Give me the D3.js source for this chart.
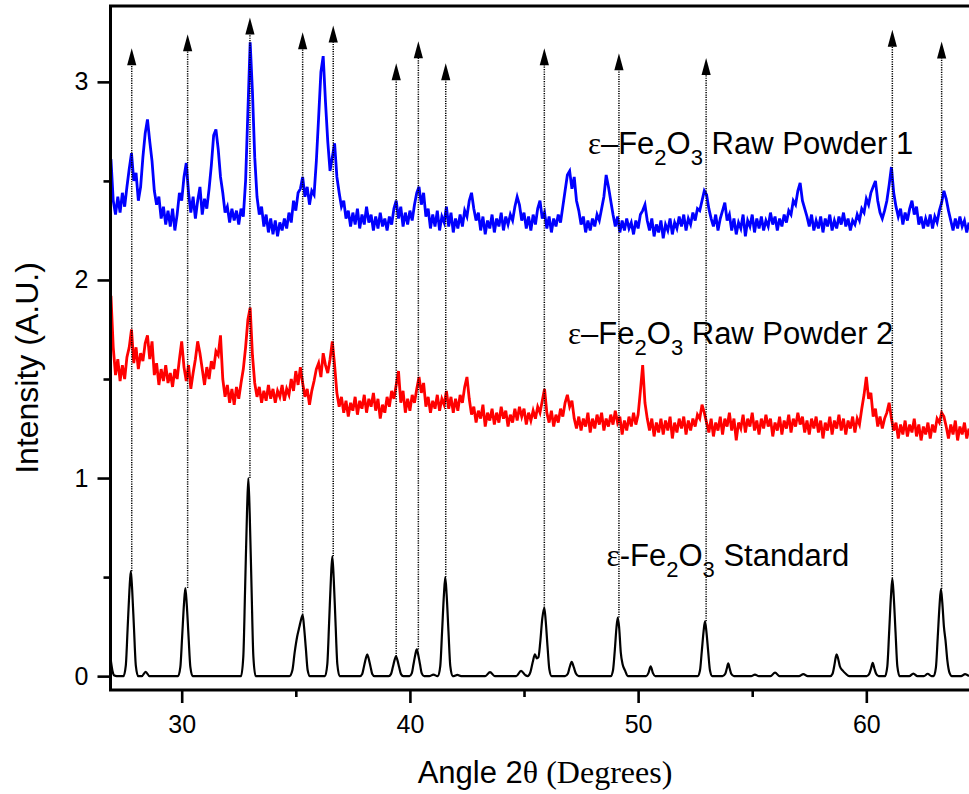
<!DOCTYPE html>
<html>
<head>
<meta charset="utf-8">
<script src="https://cdn.jsdelivr.net/npm/d3@7"></script>
<style>
body { margin: 0; background: #fff; }
svg { display: block; }
text { font-family: "Liberation Sans", Arial, sans-serif; fill: #000; }
.serif { font-family: "Liberation Serif", "Times New Roman", serif; }
</style>
</head>
<body>
<div id="chart"></div>
<script>
// scan grid of the two measured patterns (degrees 2theta)
var angleStart = 26.9, angleStep = 0.1;

// raw powder 1 (blue), one value per 0.1 deg from 26.9
var powder1 = [2.61,
	2.40, 2.33, 2.42, 2.34, 2.44, 2.37, 2.47, 2.56, 2.64, 2.50,
	2.54, 2.40, 2.47, 2.62, 2.74, 2.81, 2.70, 2.60, 2.45, 2.38,
	2.42, 2.31, 2.37, 2.28, 2.35, 2.27, 2.36, 2.25, 2.33, 2.44,
	2.40, 2.52, 2.59, 2.44, 2.34, 2.42, 2.31, 2.40, 2.47, 2.33,
	2.41, 2.36, 2.46, 2.58, 2.73, 2.76, 2.66, 2.52, 2.44, 2.34,
	2.37, 2.29, 2.36, 2.30, 2.35, 2.28, 2.36, 2.32, 2.50, 2.85,
	3.20, 2.95, 2.62, 2.42, 2.33, 2.37, 2.27, 2.33, 2.24, 2.31,
	2.23, 2.30, 2.22, 2.29, 2.25, 2.31, 2.26, 2.34, 2.29, 2.40,
	2.35, 2.44, 2.46, 2.52, 2.42, 2.47, 2.38, 2.45, 2.43, 2.60,
	2.82, 3.05, 3.13, 2.90, 2.70, 2.55, 2.62, 2.69, 2.52, 2.44,
	2.37, 2.40, 2.31, 2.35, 2.27, 2.34, 2.28, 2.36, 2.26, 2.33,
	2.28, 2.37, 2.29, 2.33, 2.25, 2.32, 2.26, 2.34, 2.27, 2.31,
	2.25, 2.32, 2.28, 2.36, 2.40, 2.31, 2.37, 2.27, 2.34, 2.28,
	2.35, 2.30, 2.38, 2.44, 2.47, 2.38, 2.44, 2.32, 2.36, 2.26,
	2.33, 2.27, 2.35, 2.25, 2.32, 2.29, 2.37, 2.27, 2.34, 2.24,
	2.31, 2.26, 2.33, 2.27, 2.35, 2.32, 2.40, 2.44, 2.36, 2.30,
	2.34, 2.25, 2.32, 2.23, 2.30, 2.26, 2.33, 2.24, 2.31, 2.27,
	2.34, 2.25, 2.32, 2.28, 2.33, 2.30, 2.37, 2.42, 2.38, 2.30,
	2.34, 2.26, 2.32, 2.25, 2.33, 2.28, 2.36, 2.40, 2.31, 2.34,
	2.26, 2.32, 2.24, 2.31, 2.27, 2.33, 2.29, 2.37, 2.45, 2.53,
	2.55, 2.46, 2.52, 2.40, 2.35, 2.28, 2.32, 2.24, 2.30, 2.25,
	2.31, 2.27, 2.33, 2.30, 2.36, 2.42, 2.53, 2.47, 2.40, 2.33,
	2.27, 2.32, 2.24, 2.30, 2.25, 2.31, 2.26, 2.29, 2.23, 2.30,
	2.26, 2.33, 2.35, 2.38, 2.30, 2.25, 2.31, 2.22, 2.28, 2.24,
	2.30, 2.21, 2.28, 2.25, 2.31, 2.23, 2.29, 2.26, 2.32, 2.27,
	2.33, 2.25, 2.31, 2.28, 2.34, 2.30, 2.36, 2.35, 2.40, 2.45,
	2.43, 2.36, 2.31, 2.27, 2.33, 2.25, 2.31, 2.35, 2.39, 2.30,
	2.33, 2.25, 2.31, 2.23, 2.29, 2.26, 2.33, 2.22, 2.30, 2.27,
	2.33, 2.24, 2.31, 2.26, 2.32, 2.25, 2.30, 2.27, 2.34, 2.28,
	2.32, 2.25, 2.31, 2.27, 2.33, 2.29, 2.35, 2.33, 2.40, 2.38,
	2.45, 2.49, 2.40, 2.36, 2.32, 2.27, 2.33, 2.25, 2.30, 2.26,
	2.32, 2.24, 2.31, 2.27, 2.33, 2.25, 2.30, 2.26, 2.32, 2.28,
	2.34, 2.27, 2.31, 2.25, 2.30, 2.28, 2.33, 2.30, 2.36, 2.34,
	2.41, 2.38, 2.44, 2.47, 2.50, 2.40, 2.34, 2.31, 2.35, 2.40,
	2.48, 2.57, 2.44, 2.37, 2.32, 2.36, 2.28, 2.34, 2.30, 2.36,
	2.40, 2.33, 2.37, 2.28, 2.32, 2.26, 2.31, 2.27, 2.33, 2.26,
	2.32, 2.29, 2.35, 2.39, 2.45, 2.41, 2.35, 2.30, 2.25, 2.31,
	2.26, 2.32, 2.27, 2.30, 2.24, 2.29];

// raw powder 2 (red), same grid
var powder2 = [1.92,
	1.66, 1.52, 1.60, 1.49, 1.57, 1.50, 1.61, 1.66, 1.75, 1.58,
	1.66, 1.55, 1.63, 1.59, 1.68, 1.72, 1.60, 1.69, 1.52, 1.58,
	1.47, 1.55, 1.49, 1.57, 1.48, 1.53, 1.46, 1.55, 1.50, 1.60,
	1.69, 1.56, 1.49, 1.57, 1.45, 1.53, 1.60, 1.69, 1.63, 1.55,
	1.47, 1.56, 1.50, 1.59, 1.55, 1.64, 1.62, 1.72, 1.50, 1.41,
	1.47, 1.38, 1.45, 1.37, 1.46, 1.40, 1.48, 1.55, 1.66, 1.80,
	1.86, 1.62, 1.48, 1.41, 1.46, 1.38, 1.44, 1.39, 1.47, 1.40,
	1.45, 1.38, 1.44, 1.41, 1.47, 1.39, 1.45, 1.42, 1.50, 1.44,
	1.54, 1.47, 1.56, 1.48, 1.41, 1.45, 1.37, 1.44, 1.49, 1.55,
	1.58, 1.51, 1.63, 1.57, 1.53, 1.60, 1.69, 1.57, 1.43, 1.36,
	1.41, 1.33, 1.39, 1.31, 1.38, 1.34, 1.41, 1.32, 1.39, 1.35,
	1.42, 1.33, 1.40, 1.36, 1.43, 1.34, 1.40, 1.30, 1.37, 1.33,
	1.41, 1.36, 1.44, 1.40, 1.47, 1.54, 1.38, 1.44, 1.33, 1.40,
	1.34, 1.42, 1.38, 1.45, 1.51, 1.43, 1.48, 1.36, 1.41, 1.33,
	1.39, 1.35, 1.42, 1.34, 1.40, 1.37, 1.44, 1.35, 1.41, 1.33,
	1.40, 1.34, 1.42, 1.38, 1.46, 1.51, 1.40, 1.32, 1.36, 1.28,
	1.34, 1.30, 1.37, 1.26, 1.33, 1.29, 1.35, 1.27, 1.33, 1.28,
	1.36, 1.30, 1.34, 1.26, 1.32, 1.28, 1.35, 1.29, 1.36, 1.31,
	1.35, 1.27, 1.33, 1.29, 1.34, 1.30, 1.36, 1.33, 1.39, 1.45,
	1.33, 1.28, 1.34, 1.26, 1.32, 1.28, 1.35, 1.31, 1.38, 1.42,
	1.36, 1.39, 1.30, 1.25, 1.31, 1.24, 1.30, 1.26, 1.33, 1.23,
	1.30, 1.25, 1.32, 1.27, 1.33, 1.24, 1.30, 1.26, 1.32, 1.27,
	1.34, 1.28, 1.31, 1.22, 1.29, 1.24, 1.31, 1.26, 1.33, 1.27,
	1.32, 1.44, 1.57, 1.38, 1.30, 1.24, 1.30, 1.21, 1.28, 1.23,
	1.30, 1.22, 1.29, 1.24, 1.31, 1.20, 1.28, 1.23, 1.30, 1.25,
	1.31, 1.22, 1.29, 1.24, 1.30, 1.26, 1.32, 1.30, 1.37, 1.33,
	1.28, 1.23, 1.30, 1.21, 1.28, 1.24, 1.31, 1.22, 1.30, 1.26,
	1.33, 1.24, 1.30, 1.19, 1.28, 1.25, 1.32, 1.23, 1.30, 1.26,
	1.33, 1.24, 1.29, 1.22, 1.30, 1.25, 1.32, 1.26, 1.30, 1.21,
	1.28, 1.24, 1.31, 1.22, 1.29, 1.25, 1.32, 1.23, 1.30, 1.26,
	1.33, 1.27, 1.31, 1.23, 1.29, 1.22, 1.30, 1.25, 1.31, 1.23,
	1.29, 1.20, 1.28, 1.24, 1.31, 1.22, 1.29, 1.25, 1.32, 1.24,
	1.30, 1.22, 1.29, 1.25, 1.31, 1.23, 1.30, 1.27, 1.35, 1.42,
	1.51, 1.40, 1.43, 1.31, 1.35, 1.26, 1.31, 1.25, 1.30, 1.33,
	1.38, 1.30, 1.24, 1.28, 1.20, 1.27, 1.22, 1.29, 1.21, 1.27,
	1.23, 1.30, 1.21, 1.27, 1.19, 1.26, 1.22, 1.28, 1.20, 1.27,
	1.23, 1.30, 1.28, 1.33, 1.31, 1.26, 1.20, 1.27, 1.22, 1.29,
	1.19, 1.26, 1.22, 1.28, 1.20, 1.25];

// reference pattern (black), [angle, intensity]
var standard = [
	[26.9, 0.075], [26.97, 0.025], [27.05, 0.003], [27.15, 0],
	[27.45, 0], [27.55, 0.053], [27.63, 0.239], [27.71, 0.435], [27.77, 0.53], [27.83, 0.435], [27.91, 0.239], [27.99, 0.053], [28.09, 0],
	[28.25, 0], [28.42, 0.022], [28.59, 0],
	[29.84, 0], [29.94, 0.045], [30.02, 0.2], [30.10, 0.365], [30.16, 0.445], [30.22, 0.365], [30.30, 0.2], [30.38, 0.045], [30.48, 0],
	[32.60, 0], [32.70, 0.1], [32.78, 0.45], [32.86, 0.82], [32.92, 1.0], [32.98, 0.82], [33.06, 0.45], [33.14, 0.1], [33.24, 0],
	[34.72, 0], [34.85, 0.03], [34.95, 0.12], [35.06, 0.2], [35.16, 0.25], [35.24, 0.29], [35.30, 0.31], [35.36, 0.25], [35.44, 0.14], [35.52, 0.03], [35.62, 0],
	[36.28, 0], [36.38, 0.06], [36.46, 0.272], [36.54, 0.496], [36.60, 0.605], [36.66, 0.496], [36.74, 0.272], [36.82, 0.06], [36.92, 0],
	[37.81, 0], [37.91, 0.011], [37.99, 0.05], [38.07, 0.09], [38.13, 0.11], [38.19, 0.09], [38.27, 0.05], [38.35, 0.011], [38.45, 0],
	[39.07, 0], [39.17, 0.01], [39.25, 0.045], [39.33, 0.082], [39.39, 0.10], [39.45, 0.082], [39.53, 0.045], [39.61, 0.01], [39.71, 0],
	[39.98, 0], [40.08, 0.014], [40.16, 0.061], [40.24, 0.111], [40.30, 0.135], [40.36, 0.111], [40.44, 0.061], [40.52, 0.014], [40.62, 0],
	[40.85, 0], [41.03, 0.008], [41.21, 0],
	[41.23, 0], [41.33, 0.05], [41.41, 0.225], [41.49, 0.41], [41.55, 0.5], [41.61, 0.41], [41.69, 0.225], [41.77, 0.05], [41.87, 0],
	[41.92, 0], [42.08, 0.006], [42.24, 0],
	[43.30, 0], [43.51, 0.02], [43.72, 0],
	[44.66, 0], [44.87, 0.027], [45.06, 0.005],
	[45.16, 0], [45.28, 0.02], [45.38, 0.07], [45.48, 0.11], [45.56, 0.09], [45.63, 0.095], [45.71, 0.17], [45.80, 0.29], [45.89, 0.345], [45.95, 0.28], [46.03, 0.15], [46.11, 0.035], [46.21, 0],
	[46.80, 0], [46.92, 0.012], [47.0, 0.045], [47.09, 0.072], [47.18, 0.045], [47.28, 0.012], [47.40, 0],
	[48.80, 0], [48.90, 0.03], [48.98, 0.133], [49.05, 0.243], [49.11, 0.296], [49.17, 0.243], [49.24, 0.12], [49.32, 0.06], [49.42, 0.03], [49.55, 0],
	[50.35, 0], [50.45, 0.015], [50.55, 0.05], [50.65, 0.015], [50.75, 0],
	[52.61, 0], [52.71, 0.028], [52.79, 0.125], [52.87, 0.227], [52.93, 0.277], [52.99, 0.227], [53.07, 0.125], [53.15, 0.028], [53.25, 0],
	[53.70, 0], [53.82, 0.012], [53.89, 0.04], [53.95, 0.064], [54.01, 0.04], [54.08, 0.012], [54.20, 0],
	[54.95, 0], [55.12, 0.008], [55.29, 0],
	[55.80, 0], [56.0, 0.018], [56.20, 0],
	[57.05, 0], [57.24, 0.01], [57.43, 0],
	[58.42, 0], [58.52, 0.012], [58.60, 0.055], [58.66, 0.095], [58.70, 0.11], [58.76, 0.09], [58.84, 0.05], [58.95, 0.03], [59.10, 0.012], [59.25, 0],
	[60.02, 0], [60.13, 0.012], [60.21, 0.04], [60.28, 0.067], [60.35, 0.04], [60.43, 0.012], [60.54, 0],
	[60.82, 0], [60.92, 0.049], [61.00, 0.222], [61.08, 0.404], [61.14, 0.493], [61.20, 0.404], [61.28, 0.222], [61.36, 0.049], [61.46, 0],
	[61.88, 0], [62.06, 0.013], [62.24, 0],
	[62.52, 0], [62.69, 0.012], [62.86, 0],
	[62.95, 0], [63.05, 0.044], [63.13, 0.198], [63.21, 0.36], [63.27, 0.44], [63.33, 0.37], [63.40, 0.25], [63.47, 0.18], [63.55, 0.08], [63.65, 0.015], [63.75, 0],
	[64.15, 0], [64.33, 0.01], [64.5, 0]
];

// marker arrows: angle, start (top of the standard peak) and tip
var markAngles = [27.81, 30.26, 32.99, 35.30, 36.64, 39.40, 40.37, 41.57, 45.89, 49.16, 52.98, 61.14, 63.30];
var markStart = [0.53, 0.445, 1.0, 0.31, 0.605, 0.10, 0.135, 0.50, 0.345, 0.296, 0.277, 0.493, 0.44];
var markTip = [3.17, 3.24, 3.325, 3.25, 3.285, 3.094, 3.205, 3.094, 3.17, 3.145, 3.12, 3.263, 3.204];

var xTicks = [30, 40, 50, 60];
var xMinor = [35, 45, 55];
var yTicks = [0, 1, 2, 3];
var yMinor = [0.5, 1.5, 2.5];

var sampleNames = ["Raw Powder 1", "Raw Powder 2", "Standard"];
var sampleDashes = ["\u2013", "\u2013", "-"];

var width = 969, height = 794;
var padLeft = 110.5, padTop = 6, padBottom = 690;

var svg = d3.select("#chart").append("svg")
	.attr("width", width)
	.attr("height", height);

var x = d3.scaleLinear().domain([26.88, 64.6]).range([padLeft, 971.3]);
var y = d3.scaleLinear().domain([-0.07, 3.383]).range([padBottom, padTop]);

svg.append("defs").append("clipPath").attr("id", "plot")
	.append("rect")
	.attr("x", padLeft).attr("y", padTop)
	.attr("width", width - padLeft).attr("height", padBottom - padTop);

var plot = svg.append("g").attr("clip-path", "url(#plot)");

function scan(values) {
	return values.map((v, i) => [+(angleStart + i * angleStep).toFixed(2), v]);
}

var line = d3.line().x(d => x(d[0])).y(d => y(d[1]));
var smooth = d3.line().x(d => x(d[0])).y(d => y(d[1])).curve(d3.curveMonotoneX);

plot.append("path")
	.attr("d", line(scan(powder1)))
	.attr("fill", "none")
	.attr("stroke", "#0000ff")
	.attr("stroke-width", 2.8)
	.attr("stroke-linejoin", "miter");

plot.append("path")
	.attr("d", line(scan(powder2)))
	.attr("fill", "none")
	.attr("stroke", "#ff0000")
	.attr("stroke-width", 2.8)
	.attr("stroke-linejoin", "miter");

plot.append("path")
	.attr("d", smooth(standard))
	.attr("fill", "none")
	.attr("stroke", "#000")
	.attr("stroke-width", 2.2);

// dotted guides with arrowheads
var headH = 17, headW = 4.6;
var marks = plot.selectAll("g.mark")
	.data(markAngles)
	.enter()
	.append("g")
	.attr("class", "mark");

marks.append("line")
	.attr("x1", d => x(d)).attr("x2", d => x(d))
	.attr("y1", (d, i) => y(markStart[i]))
	.attr("y2", (d, i) => y(markTip[i]) + headH - 1)
	.attr("stroke", "#000")
	.attr("stroke-width", 1.5)
	.attr("stroke-dasharray", "1.2,1.2");

marks.append("path")
	.attr("d", function(d, i) {
		var px = x(d), py = y(markTip[i]);
		return `M${px},${py}L${px - headW},${py + headH}L${px + headW},${py + headH}Z`;
	})
	.attr("fill", "#000");

// axes
var axisY = svg.append("g")
	.attr("transform", `translate(${padLeft},0)`)
	.call(d3.axisLeft(y).tickValues(yTicks).tickSize(13).tickPadding(9).tickFormat(d3.format("d")));
var axisYMinor = svg.append("g")
	.attr("transform", `translate(${padLeft},0)`)
	.call(d3.axisLeft(y).tickValues(yMinor).tickSize(7).tickFormat(""));
var axisX = svg.append("g")
	.attr("transform", `translate(0,${padBottom})`)
	.call(d3.axisBottom(x).tickValues(xTicks).tickSize(13).tickPadding(12).tickFormat(d3.format("d")));
var axisXMinor = svg.append("g")
	.attr("transform", `translate(0,${padBottom})`)
	.call(d3.axisBottom(x).tickValues(xMinor).tickSize(7).tickFormat(""));

[axisY, axisYMinor, axisX, axisXMinor].forEach(function(g) {
	g.select(".domain").remove();
	g.selectAll(".tick line").attr("stroke", "#000").attr("stroke-width", 2.6);
	g.selectAll(".tick text")
		.style("font-family", "'Liberation Sans', Arial, sans-serif")
		.style("font-size", "25px")
		.attr("fill", "#000");
});

// frame
svg.append("path")
	.attr("d", `M${width},${padTop}H${padLeft}V${padBottom}H${width}`)
	.attr("fill", "none")
	.attr("stroke", "#000")
	.attr("stroke-width", 3);

// axis titles
svg.append("text")
	.attr("transform", "translate(38,368) rotate(-90)")
	.attr("text-anchor", "middle")
	.style("font-size", "32px")
	.text("Intensity (A.U.)");

var xTitle = svg.append("text")
	.attr("x", 545).attr("y", 783)
	.attr("text-anchor", "middle")
	.style("font-size", "31px");
xTitle.append("tspan").text("Angle 2");
xTitle.append("tspan").attr("class", "serif").style("font-size", "32px").text("\u03b8 (Degrees)");

// series labels
function sampleLabel(angle, level, k) {
	var t = svg.append("text")
		.attr("x", x(angle)).attr("y", y(level))
		.style("font-size", "31px")
		.style("white-space", "pre");
	t.append("tspan").attr("class", "serif").text("\u03b5");
	t.append("tspan").text(sampleDashes[k] + "Fe");
	t.append("tspan").attr("dy", 11).style("font-size", "22px").text("2");
	t.append("tspan").attr("dy", -11).text("O");
	t.append("tspan").attr("dy", 11).style("font-size", "22px").text("3");
	t.append("tspan").attr("dy", -11).text(" " + sampleNames[k]);
}

sampleLabel(47.80, 2.635, 0);
sampleLabel(46.93, 1.676, 1);
sampleLabel(48.62, 0.557, 2);
</script>
</body>
</html>
